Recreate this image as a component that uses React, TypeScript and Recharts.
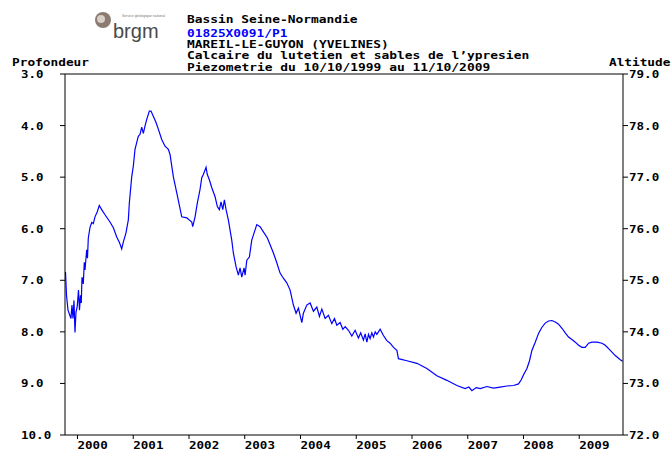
import { Line, LineChart, ReferenceLine, XAxis, YAxis } from "recharts";

// decimal year, depth below ground (m)
const years = [
  1999.785, 1999.803, 1999.83, 1999.856, 1999.883, 1999.901, 1999.919, 1999.937, 1999.955, 1999.973,
  1999.996, 2000.018, 2000.036, 2000.054, 2000.068, 2000.081, 2000.104, 2000.122, 2000.135, 2000.165,
  2000.179, 2000.194, 2000.224, 2000.255, 2000.284, 2000.314, 2000.355, 2000.391, 2000.434, 2000.494,
  2000.583, 2000.643, 2000.704, 2000.75, 2000.793, 2000.822, 2000.87, 2000.912, 2000.93, 2000.973,
  2001.001, 2001.032, 2001.062, 2001.091, 2001.122, 2001.152, 2001.181, 2001.211, 2001.242, 2001.289,
  2001.319, 2001.36, 2001.409, 2001.45, 2001.511, 2001.57, 2001.63, 2001.66, 2001.719, 2001.78,
  2001.87, 2001.96, 2002.05, 2002.067, 2002.109, 2002.15, 2002.198, 2002.229, 2002.258, 2002.306,
  2002.329, 2002.365, 2002.408, 2002.468, 2002.509, 2002.545, 2002.575, 2002.606, 2002.635, 2002.665,
  2002.706, 2002.767, 2002.796, 2002.845, 2002.886, 2002.916, 2002.947, 2002.988, 2003.006, 2003.037,
  2003.083, 2003.126, 2003.168, 2003.216, 2003.275, 2003.335, 2003.406, 2003.455, 2003.514, 2003.575,
  2003.634, 2003.693, 2003.754, 2003.814, 2003.873, 2003.921, 2003.963, 2004.024, 2004.052, 2004.113,
  2004.173, 2004.232, 2004.293, 2004.34, 2004.383, 2004.442, 2004.501, 2004.562, 2004.61, 2004.652,
  2004.711, 2004.76, 2004.801, 2004.86, 2004.921, 2004.98, 2005.039, 2005.08, 2005.129, 2005.16,
  2005.19, 2005.22, 2005.249, 2005.28, 2005.309, 2005.34, 2005.37, 2005.429, 2005.488, 2005.549,
  2005.608, 2005.668, 2005.729, 2005.757, 2005.908, 2006.088, 2006.267, 2006.446, 2006.626, 2006.805,
  2006.954, 2007.02, 2007.075, 2007.152, 2007.224, 2007.344, 2007.462, 2007.582, 2007.703, 2007.821,
  2007.911, 2007.96, 2008.001, 2008.062, 2008.108, 2008.151, 2008.211, 2008.27, 2008.331, 2008.39,
  2008.449, 2008.51, 2008.57, 2008.629, 2008.69, 2008.749, 2008.808, 2008.869, 2008.929, 2008.988,
  2009.049, 2009.108, 2009.167, 2009.228, 2009.318, 2009.408, 2009.467, 2009.557, 2009.646, 2009.736,
  2009.777,
];

const depths = [
  6.84, 7.29, 7.58, 7.66, 7.74, 7.48, 7.74, 7.39, 8.01, 7.62,
  7.5, 7.19, 7.58, 7.29, 7.44, 6.94, 7.07, 6.65, 6.8, 6.41,
  6.57, 6.18, 5.98, 5.88, 5.9, 5.77, 5.67, 5.55, 5.63, 5.73,
  5.87, 5.98, 6.16, 6.26, 6.39, 6.26, 6.08, 5.83, 5.5, 4.99,
  4.79, 4.46, 4.33, 4.21, 4.17, 4.03, 4.15, 4.01, 3.88, 3.72,
  3.72, 3.82, 3.94, 4.07, 4.27, 4.4, 4.46, 4.56, 4.99, 5.3,
  5.77, 5.79, 5.87, 5.96, 5.77, 5.5, 5.24, 5.01, 4.95, 4.81,
  4.95, 5.05, 5.2, 5.38, 5.57, 5.63, 5.48, 5.63, 5.44, 5.63,
  5.83, 6.22, 6.47, 6.74, 6.9, 6.76, 6.94, 6.76, 6.9, 6.61,
  6.55, 6.22, 6.08, 5.92, 5.96, 6.06, 6.18, 6.31, 6.47, 6.66,
  6.86, 6.96, 7.05, 7.19, 7.48, 7.64, 7.54, 7.82, 7.64, 7.48,
  7.44, 7.6, 7.52, 7.7, 7.56, 7.74, 7.68, 7.84, 7.74, 7.87,
  7.82, 7.95, 7.9, 7.97, 8.08, 7.97, 8.12, 8.02, 8.16, 8.04,
  8.2, 8.05, 8.13, 8.02, 8.1, 8.0, 8.05, 7.95, 8.07, 8.17,
  8.22, 8.3, 8.36, 8.52, 8.56, 8.61, 8.71, 8.85, 8.94, 9.04,
  9.1, 9.07, 9.14, 9.08, 9.1, 9.06, 9.09, 9.07, 9.05, 9.04,
  9.01, 8.93, 8.83, 8.71, 8.56, 8.36, 8.2, 8.03, 7.91, 7.83,
  7.79, 7.78, 7.81, 7.85, 7.93, 8.02, 8.1, 8.15, 8.2, 8.26,
  8.3, 8.3, 8.22, 8.2, 8.2, 8.22, 8.26, 8.36, 8.46, 8.54,
  8.57,
];

const yearTicks = [2000, 2001, 2002, 2003, 2004, 2005, 2006, 2007, 2008, 2009];
const depthTicks = [3, 4, 5, 6, 7, 8, 9, 10];
const altitudeTicks = [72, 73, 74, 75, 76, 77, 78, 79];
const groundLevel = 82;

const titleLines = [
  "Bassin Seine-Normandie",
  "01825X0091/P1",
  "MAREIL-LE-GUYON (YVELINES)",
  "Calcaire du lutetien et sables de l\u2019ypresien",
  "Piezometrie du 10/10/1999 au 11/10/2009",
];

const data = years.map((year, i) => ({ year, depth: depths[i], altitude: groundLevel - depths[i] }));

const font = "'DejaVu Sans Mono', monospace";
const CHAR_W = 7.8;
const textStyle = { fontFamily: font, fontSize: 11, fontWeight: "bold" as const, fill: "#000" };

const Mono = ({ x, y, children, fill, anchor }: any) => {
  const s = String(children);
  return (
    <text
      x={x}
      y={y}
      textAnchor={anchor || "start"}
      textLength={s.length * CHAR_W - 1}
      lengthAdjust="spacingAndGlyphs"
      style={{ ...textStyle, fill: fill || "#000" }}
    >
      {s}
    </text>
  );
};

const LeftTick = (props: any) => <Mono x={21} y={props.y + 4}>{Number(props.payload.value).toFixed(1)}</Mono>;
const RightTick = (props: any) => <Mono x={props.x} y={props.y + 4}>{Number(props.payload.value).toFixed(1)}</Mono>;
const BottomTick = (props: any) => <Mono x={props.x} y={props.y + 8}>{props.payload.value}</Mono>;

export default function App() {
  return (
    <div style={{ position: "absolute", left: 0, top: 0, width: 672, height: 450, background: "#fff" }}>
      <LineChart width={672} height={450} data={data} margin={{ top: 74, right: 0, bottom: 0, left: 0 }}>
        <XAxis
          dataKey="year"
          type="number"
          domain={[1999.776, 2009.785]}
          allowDataOverflow
          ticks={yearTicks}
          interval={0}
          height={15}
          stroke="#000"
          tickSize={4}
          tick={BottomTick}
        />
        <YAxis
          yAxisId="left"
          type="number"
          domain={[3, 10]}
          reversed
          ticks={depthTicks}
          interval={0}
          width={65}
          stroke="#000"
          tickSize={5}
          tick={LeftTick}
        />
        <YAxis
          yAxisId="right"
          orientation="right"
          type="number"
          domain={[72, 79]}
          allowDataOverflow
          ticks={altitudeTicks}
          interval={0}
          width={49}
          stroke="#000"
          tickSize={5}
          tickMargin={1}
          tick={RightTick}
        />
        <ReferenceLine yAxisId="left" y={3} stroke="#000" />
        <Line
          yAxisId="right"
          type="linear"
          dataKey="altitude"
          stroke="none"
          dot={false}
          activeDot={false}
          isAnimationActive={false}
        />
        <Line
          yAxisId="left"
          type="linear"
          dataKey="depth"
          stroke="#0000ff"
          strokeWidth={1.2}
          dot={false}
          isAnimationActive={false}
        />
      </LineChart>
      <svg width={672} height={74} style={{ position: "absolute", left: 0, top: 0 }}>
        <circle cx={103} cy={20} r={8} fill="#8c7b70" />
        <circle cx={101} cy={19} r={4} fill="#d8cfc8" />
        <text
          x={113}
          y={38}
          style={{ fontFamily: "'Liberation Sans Narrow', 'Liberation Sans', sans-serif", fontSize: 20, fill: "#4a4a4a" }}
        >
          brgm
        </text>
        <text x={122} y={17} style={{ fontFamily: "'Liberation Sans', sans-serif", fontSize: 3.5, fill: "#777" }}>
          Service géologique national
        </text>
        {titleLines.map((t, i) => (
          <Mono key={t} x={187} y={[23, 37, 48, 59, 71][i]} fill={i === 1 ? "#0000ff" : "#000"}>
            {t}
          </Mono>
        ))}
        <Mono x={12} y={66}>Profondeur</Mono>
        <Mono x={609} y={66}>Altitude</Mono>
      </svg>
    </div>
  );
}
